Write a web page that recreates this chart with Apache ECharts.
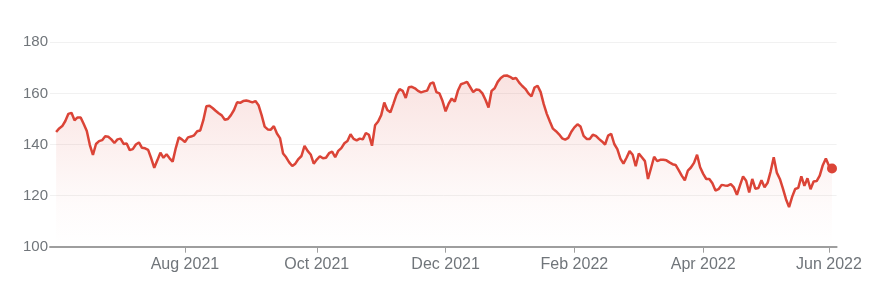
<!DOCTYPE html>
<html>
<head>
<meta charset="utf-8">
<script src="https://cdn.jsdelivr.net/npm/echarts/dist/echarts.min.js"></script>
<style>
html,body{margin:0;padding:0;background:#fff;}
#chart{width:887px;height:283px;}
</style>
</head>
<body>
<div id="chart"></div>
<script>
// Trading calendar (NYSE) for the one-year window
const startDate = '2021-06-02';
const endDate = '2022-06-02';
const holidays = ['2021-07-05','2021-09-06','2021-11-25','2021-12-24','2022-01-17','2022-02-21','2022-04-15','2022-05-30'];

// Closing prices, one per trading day
const prices = [
144.9,146.3,147.2,149.2,152,152.4,149.5,150.6,150.6,148,
145.3,139.8,135.9,140.2,141.3,141.7,143.2,143,142,140.6,
142,142.3,140.2,140.4,137.8,138.2,140,140.8,138.7,138.5,
137.9,134.6,130.9,133.8,136.8,134.8,136.2,134.6,133.3,138.5,
142.8,142,141,142.8,143.1,143.6,145.2,145.5,149.5,155,
155.2,154.3,153.2,152.2,151.4,149.7,150,151.5,153.5,156.5,
156.3,157,157.2,156.9,156.5,157,155.4,151.5,147,145.9,
145.8,147.2,144.3,142.5,136.5,135,133,131.6,132.5,134.3,
135.5,139.5,137.5,136.1,132.5,134.1,135.4,134.6,134.8,136.6,
137.2,135,137.5,138.6,140.5,141.4,144,142.2,141.6,142.3,
142,144.5,143.8,139.5,147.5,149,151.5,156.4,153.5,152.6,
156,159.5,161.7,161,158.2,162.4,162.6,162,161,160.4,
160.8,161.1,163.8,164.3,160.5,160,157,153,156,158,
156.8,161,163.6,164,164.5,162.5,160.5,161.5,161.3,160,
157.5,154.5,161,162,164.5,166,166.9,167,166.5,165.7,
166,164.2,162.9,161.8,160,158.8,162.3,163,160.5,155.8,
152,149,146.2,145.2,144,142.4,141.9,142.6,145,146.7,
147.9,147,143.4,142.2,142.2,143.8,143.4,142.2,141.2,140,
143.5,144.2,140.2,138.2,134.5,132.5,134.8,137.4,136,131.5,
136.5,135,133.5,126.5,130.8,135.2,133.5,134,134,133.8,
133,132.3,132,130,127.8,126,129.8,131,132.8,136,
131.1,128.5,126.5,126.5,124.8,122,122.5,124.2,124,123.9,
124.5,123.2,120.3,124,127.5,125.8,121.2,126.5,122.7,123,
126,123.3,125,129.5,135,129,126.5,122.7,118.6,115.5,
119.5,122.6,123,127.5,123.8,126.8,122.5,125.5,125.7,127.8,
131.9,134.5,131.7,130.6
];

// Axis ticks
const tickDates = ['2021-08-02','2021-10-01','2021-12-01','2022-02-01','2022-04-01','2022-06-01'];
const tickLabels = ['Aug 2021','Oct 2021','Dec 2021','Feb 2022','Apr 2022','Jun 2022'];
const yMin = 100, yMax = 180, yStep = 20;

function tradingDays(from, to, skip) {
  const out = [];
  const d = new Date(from + 'T00:00:00Z');
  const end = new Date(to + 'T00:00:00Z');
  while (d <= end) {
    const wd = d.getUTCDay();
    const s = d.toISOString().slice(0, 10);
    if (wd !== 0 && wd !== 6 && skip.indexOf(s) < 0) out.push(s);
    d.setUTCDate(d.getUTCDate() + 1);
  }
  return out;
}
const dates = tradingDays(startDate, endDate, holidays);
const tickIdx = tickDates.map(t => dates.indexOf(t));

const lineColor = '#db4437';
const textColor = '#70757a';
const font = '"Liberation Sans", Arial, sans-serif';

const chart = echarts.init(document.getElementById('chart'), null, {renderer: 'canvas'});
chart.setOption({
  animation: false,
  backgroundColor: '#fff',
  grid: {left: 50, right: 50.4, top: 42.3, bottom: 36.3, containLabel: false},
  xAxis: {
    type: 'value',
    min: -2,
    max: dates.length + 0.5,
    splitLine: {show: false},
    axisLine: {onZero: false, lineStyle: {color: '#9e9e9e', width: 2}},
    axisTick: {show: true, customValues: tickIdx, length: 6, lineStyle: {color: '#9e9e9e', width: 1}},
    axisLabel: {
      customValues: tickIdx,
      formatter: v => tickLabels[tickIdx.indexOf(v)] || '',
      color: textColor, fontSize: 16, fontFamily: font, margin: 10
    }
  },
  yAxis: {
    type: 'value',
    min: yMin, max: yMax, interval: yStep,
    axisLine: {show: false},
    axisTick: {show: false},
    splitLine: {lineStyle: {color: '#f1f1f1', width: 1}},
    axisLabel: {color: textColor, fontSize: 15, fontFamily: font, margin: 2}
  },
  series: [
    {
      type: 'line',
      data: prices.map((v, i) => [i, v]),
      showSymbol: false,
      lineStyle: {color: lineColor, width: 2.5},
      itemStyle: {color: lineColor},
      areaStyle: {
        origin: 'start',
        color: new echarts.graphic.LinearGradient(0, 0, 0, 1, [
          {offset: 0, color: 'rgba(219,68,55,0.22)'},
          {offset: 0.75, color: 'rgba(219,68,55,0.03)'},
          {offset: 1, color: 'rgba(219,68,55,0)'}
        ])
      },
      z: 2
    },
    {
      type: 'scatter',
      data: [[prices.length - 1, prices[prices.length - 1]]],
      symbol: 'circle',
      symbolSize: 10,
      itemStyle: {color: lineColor, opacity: 1},
      z: 3
    }
  ]
});
</script>
</body>
</html>
